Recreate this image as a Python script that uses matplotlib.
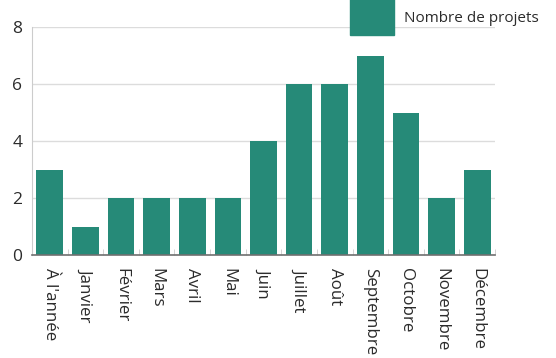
import matplotlib
matplotlib.use('Agg')
import matplotlib.pyplot as plt
import numpy as np
from matplotlib.patches import Rectangle

plt.rcParams['font.family'] = ['Open Sans', 'DejaVu Sans']

# monthly project counts
mois = ['À l\'année', 'Janvier', 'Février', 'Mars', 'Avril', 'Mai', 'Juin',
        'Juillet', 'Août', 'Septembre', 'Octobre', 'Novembre', 'Décembre']
projets = [3, 1, 2, 2, 2, 2, 4, 6, 6, 7, 5, 2, 3]
yticks = [0, 2, 4, 6, 8]

couleur = '#268a78'
texte = '#2b2b2b'

fig = plt.figure(figsize=(5.56, 3.58), dpi=100)
ax = fig.add_axes([32/556, 1 - 255/358, (495-32)/556, (255-27)/358])

x = np.arange(len(mois))
ax.bar(x, projets, width=0.75, color=couleur, zorder=3)

ax.set_xlim(-0.5, len(mois) - 0.5)
ax.set_ylim(0, 8)
ax.set_yticks(yticks)
ax.yaxis.grid(True, color='#dcdcdc', linewidth=1, zorder=0)
ax.tick_params(axis='y', length=0, labelsize=12.5, labelcolor=texte, pad=7)

ax.set_xticks(x)
ax.set_xticklabels(mois, rotation=-90, ha='center', va='top', fontsize=12.2, color=texte)
ax.tick_params(axis='x', which='major', length=0, pad=9)
ax.set_xticks(np.arange(len(mois) + 1) - 0.5, minor=True)
ax.tick_params(axis='x', which='minor', direction='in', length=4, color='#cccccc')

for s in ['top', 'right']:
    ax.spines[s].set_visible(False)
ax.spines['left'].set_color('#cccccc')
ax.spines['bottom'].set_color('#707070')
ax.spines['bottom'].set_linewidth(1.2)
ax.spines['bottom'].set_zorder(4)

# legend swatch and label
fig.patches.append(Rectangle((350/556, 1 - 35/358), 44/556, 36/358,
                             transform=fig.transFigure, color=couleur))
fig.text(404/556, 1 - 18/358, 'Nombre de projets', fontsize=11,
         color=texte, va='center', ha='left')

fig.savefig('out.png', dpi=100)
